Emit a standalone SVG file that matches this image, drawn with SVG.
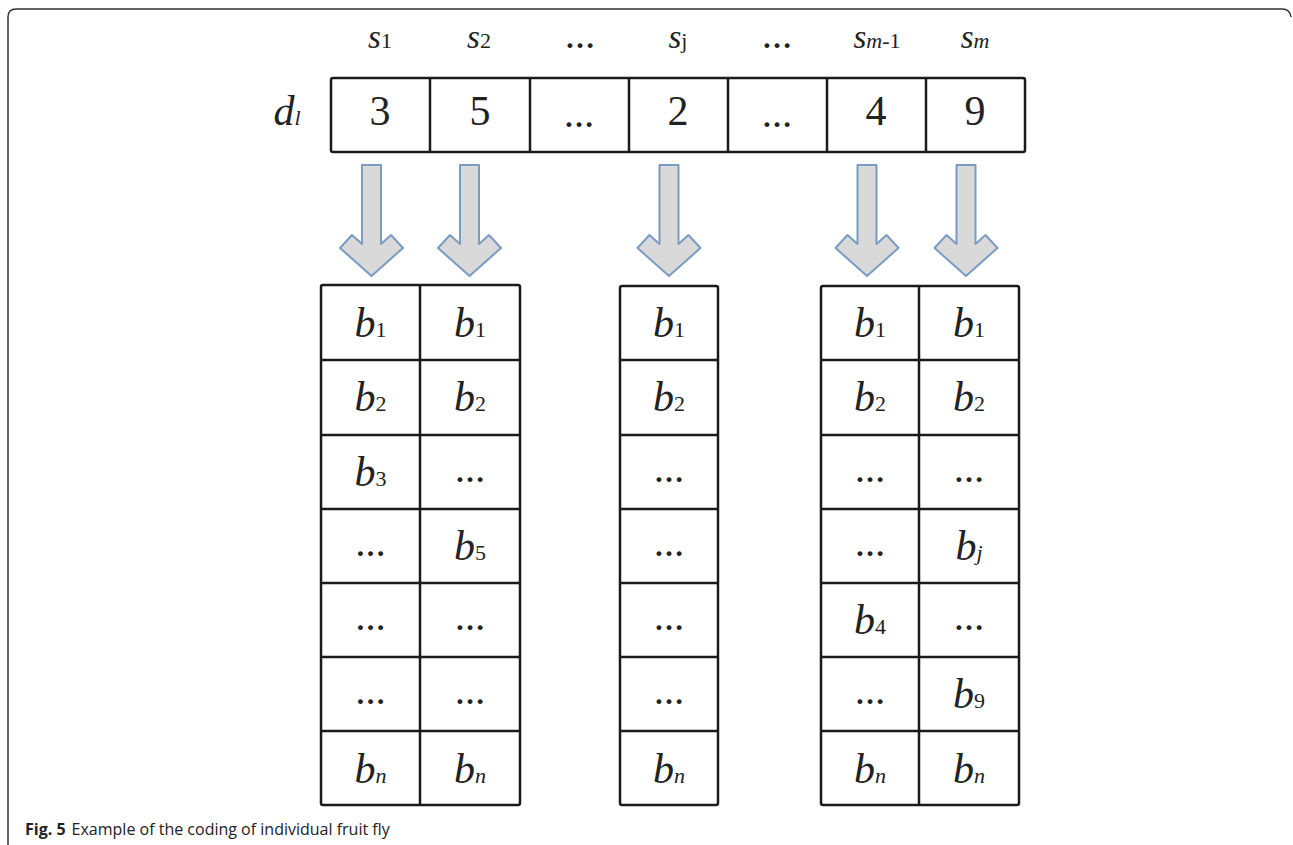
<svg xmlns="http://www.w3.org/2000/svg" width="1293" height="845" viewBox="0 0 1293 845">
  <style>
    .frame { fill: none; stroke: #333; stroke-width: 1.5; }
    .cell { fill: #fff; stroke: #1a1a1a; stroke-width: 2.5; }
    .grid { stroke: #1a1a1a; stroke-width: 2.5; }
    .arrow { fill: #d9d9d9; stroke: #7b9cc2; stroke-width: 2; stroke-linejoin: round; }
    .it { font-family: "Liberation Serif", "DejaVu Serif", serif; font-style: italic; fill: #222; }
    .rm { font-family: "Liberation Serif", "DejaVu Serif", serif; fill: #222; }
    .hdr { font-size: 33px; }
    .num { font-size: 42px; }
    .b { font-size: 42px; }
    .sub { font-style: normal; font-size: 22px; }
    .subi { font-style: italic; font-size: 22px; }
    .dots { font-size: 30px; font-weight: bold; }
    .cap { font-family: "Open Sans", "Liberation Sans", sans-serif; font-size: 16px; fill: #222; }
  </style>
  <defs>
    <!-- block arrow pointing down, origin at top centre of shaft -->
    <path id="downArrow" d="M-9.5,0 H9.5 V79 L19.5,70 L31.5,83 L0,111 L-31.5,83 L-19.5,70 L-9.5,79 Z"/>
  </defs>

  <rect width="1293" height="845" fill="#fff"/>
  <path class="frame" d="M8,845 V17 Q8,9 16,9 H1282 Q1290,9 1291,17"/>

  <!-- column labels -->
  <g id="labels">
    <text class="it hdr" x="380" y="48" text-anchor="middle">s<tspan class="sub">1</tspan></text>
    <text class="it hdr" x="479" y="48" text-anchor="middle">s<tspan class="sub">2</tspan></text>
    <text class="rm dots" x="580" y="48" text-anchor="middle">…</text>
    <text class="it hdr" x="678" y="48" text-anchor="middle">s<tspan class="sub">j</tspan></text>
    <text class="rm dots" x="777" y="48" text-anchor="middle">…</text>
    <text class="it hdr" x="877" y="48" text-anchor="middle">s<tspan class="subi">m</tspan><tspan class="sub">-1</tspan></text>
    <text class="it hdr" x="975" y="48" text-anchor="middle">s<tspan class="subi">m</tspan></text>
    <text class="it" font-size="42" x="287" y="125" text-anchor="middle">d<tspan class="subi">l</tspan></text>
  </g>

  <!-- individual d_l -->
  <g id="individual">
    <rect class="cell" x="331" y="78" width="694" height="74" rx="2"/>
    <line class="grid" x1="430" y1="78" x2="430" y2="152"/>
    <line class="grid" x1="530" y1="78" x2="530" y2="152"/>
    <line class="grid" x1="629" y1="78" x2="629" y2="152"/>
    <line class="grid" x1="728" y1="78" x2="728" y2="152"/>
    <line class="grid" x1="827" y1="78" x2="827" y2="152"/>
    <line class="grid" x1="926" y1="78" x2="926" y2="152"/>
    <text class="rm num" x="380" y="125" text-anchor="middle">3</text>
    <text class="rm num" x="480" y="125" text-anchor="middle">5</text>
    <text class="rm dots" x="579" y="127" text-anchor="middle">…</text>
    <text class="rm num" x="678" y="125" text-anchor="middle">2</text>
    <text class="rm dots" x="777" y="127" text-anchor="middle">…</text>
    <text class="rm num" x="876" y="125" text-anchor="middle">4</text>
    <text class="rm num" x="975" y="125" text-anchor="middle">9</text>
  </g>

  <!-- arrows from genes to bit columns -->
  <g id="connectors">
    <use href="#downArrow" class="arrow" x="371.5" y="165"/>
    <use href="#downArrow" class="arrow" x="469.5" y="165"/>
    <use href="#downArrow" class="arrow" x="669" y="165"/>
    <use href="#downArrow" class="arrow" x="867" y="165"/>
    <use href="#downArrow" class="arrow" x="966" y="165"/>
  </g>

  <!-- bit columns for s1 and s2 -->
  <g id="columns-s1-s2">
    <rect class="cell" x="321" y="285" width="199" height="520" rx="2"/>
    <line class="grid" x1="420" y1="285" x2="420" y2="805"/>
    <line class="grid" x1="321" y1="360" x2="520" y2="360"/>
    <line class="grid" x1="321" y1="435" x2="520" y2="435"/>
    <line class="grid" x1="321" y1="509" x2="520" y2="509"/>
    <line class="grid" x1="321" y1="583" x2="520" y2="583"/>
    <line class="grid" x1="321" y1="657" x2="520" y2="657"/>
    <line class="grid" x1="321" y1="731" x2="520" y2="731"/>
    <text class="it b" x="370.5" y="337" text-anchor="middle">b<tspan class="sub">1</tspan></text>
    <text class="it b" x="370.5" y="411" text-anchor="middle">b<tspan class="sub">2</tspan></text>
    <text class="it b" x="370.5" y="486" text-anchor="middle">b<tspan class="sub">3</tspan></text>
    <text class="rm dots" x="370.5" y="556" text-anchor="middle">…</text>
    <text class="rm dots" x="370.5" y="630" text-anchor="middle">…</text>
    <text class="rm dots" x="370.5" y="704" text-anchor="middle">…</text>
    <text class="it b" x="370.5" y="783" text-anchor="middle">b<tspan class="subi">n</tspan></text>
    <text class="it b" x="470" y="337" text-anchor="middle">b<tspan class="sub">1</tspan></text>
    <text class="it b" x="470" y="411" text-anchor="middle">b<tspan class="sub">2</tspan></text>
    <text class="rm dots" x="470" y="482" text-anchor="middle">…</text>
    <text class="it b" x="470" y="560" text-anchor="middle">b<tspan class="sub">5</tspan></text>
    <text class="rm dots" x="470" y="630" text-anchor="middle">…</text>
    <text class="rm dots" x="470" y="704" text-anchor="middle">…</text>
    <text class="it b" x="470" y="783" text-anchor="middle">b<tspan class="subi">n</tspan></text>
  </g>

  <!-- bit column for sj -->
  <g id="column-sj">
    <rect class="cell" x="620" y="286" width="98" height="519" rx="2"/>
    <line class="grid" x1="620" y1="360" x2="718" y2="360"/>
    <line class="grid" x1="620" y1="435" x2="718" y2="435"/>
    <line class="grid" x1="620" y1="509" x2="718" y2="509"/>
    <line class="grid" x1="620" y1="583" x2="718" y2="583"/>
    <line class="grid" x1="620" y1="657" x2="718" y2="657"/>
    <line class="grid" x1="620" y1="731" x2="718" y2="731"/>
    <text class="it b" x="669" y="337" text-anchor="middle">b<tspan class="sub">1</tspan></text>
    <text class="it b" x="669" y="411" text-anchor="middle">b<tspan class="sub">2</tspan></text>
    <text class="rm dots" x="669" y="482" text-anchor="middle">…</text>
    <text class="rm dots" x="669" y="556" text-anchor="middle">…</text>
    <text class="rm dots" x="669" y="630" text-anchor="middle">…</text>
    <text class="rm dots" x="669" y="704" text-anchor="middle">…</text>
    <text class="it b" x="669" y="783" text-anchor="middle">b<tspan class="subi">n</tspan></text>
  </g>

  <!-- bit columns for sm-1 and sm -->
  <g id="columns-sm1-sm">
    <rect class="cell" x="821" y="286" width="198" height="519" rx="2"/>
    <line class="grid" x1="919" y1="286" x2="919" y2="805"/>
    <line class="grid" x1="821" y1="360" x2="1019" y2="360"/>
    <line class="grid" x1="821" y1="435" x2="1019" y2="435"/>
    <line class="grid" x1="821" y1="509" x2="1019" y2="509"/>
    <line class="grid" x1="821" y1="583" x2="1019" y2="583"/>
    <line class="grid" x1="821" y1="657" x2="1019" y2="657"/>
    <line class="grid" x1="821" y1="731" x2="1019" y2="731"/>
    <text class="it b" x="870" y="337" text-anchor="middle">b<tspan class="sub">1</tspan></text>
    <text class="it b" x="870" y="411" text-anchor="middle">b<tspan class="sub">2</tspan></text>
    <text class="rm dots" x="870" y="482" text-anchor="middle">…</text>
    <text class="rm dots" x="870" y="556" text-anchor="middle">…</text>
    <text class="it b" x="870" y="634" text-anchor="middle">b<tspan class="sub">4</tspan></text>
    <text class="rm dots" x="870" y="704" text-anchor="middle">…</text>
    <text class="it b" x="870" y="783" text-anchor="middle">b<tspan class="subi">n</tspan></text>
    <text class="it b" x="969" y="337" text-anchor="middle">b<tspan class="sub">1</tspan></text>
    <text class="it b" x="969" y="411" text-anchor="middle">b<tspan class="sub">2</tspan></text>
    <text class="rm dots" x="969" y="482" text-anchor="middle">…</text>
    <text class="it b" x="969" y="560" text-anchor="middle">b<tspan class="subi">j</tspan></text>
    <text class="rm dots" x="969" y="630" text-anchor="middle">…</text>
    <text class="it b" x="969" y="708" text-anchor="middle">b<tspan class="sub">9</tspan></text>
    <text class="it b" x="969" y="783" text-anchor="middle">b<tspan class="subi">n</tspan></text>
  </g>

  <!-- caption -->
  <text class="cap" x="25" y="835"><tspan font-weight="bold">Fig. 5</tspan><tspan dx="6">Example of the coding of individual fruit fly</tspan></text>
</svg>
